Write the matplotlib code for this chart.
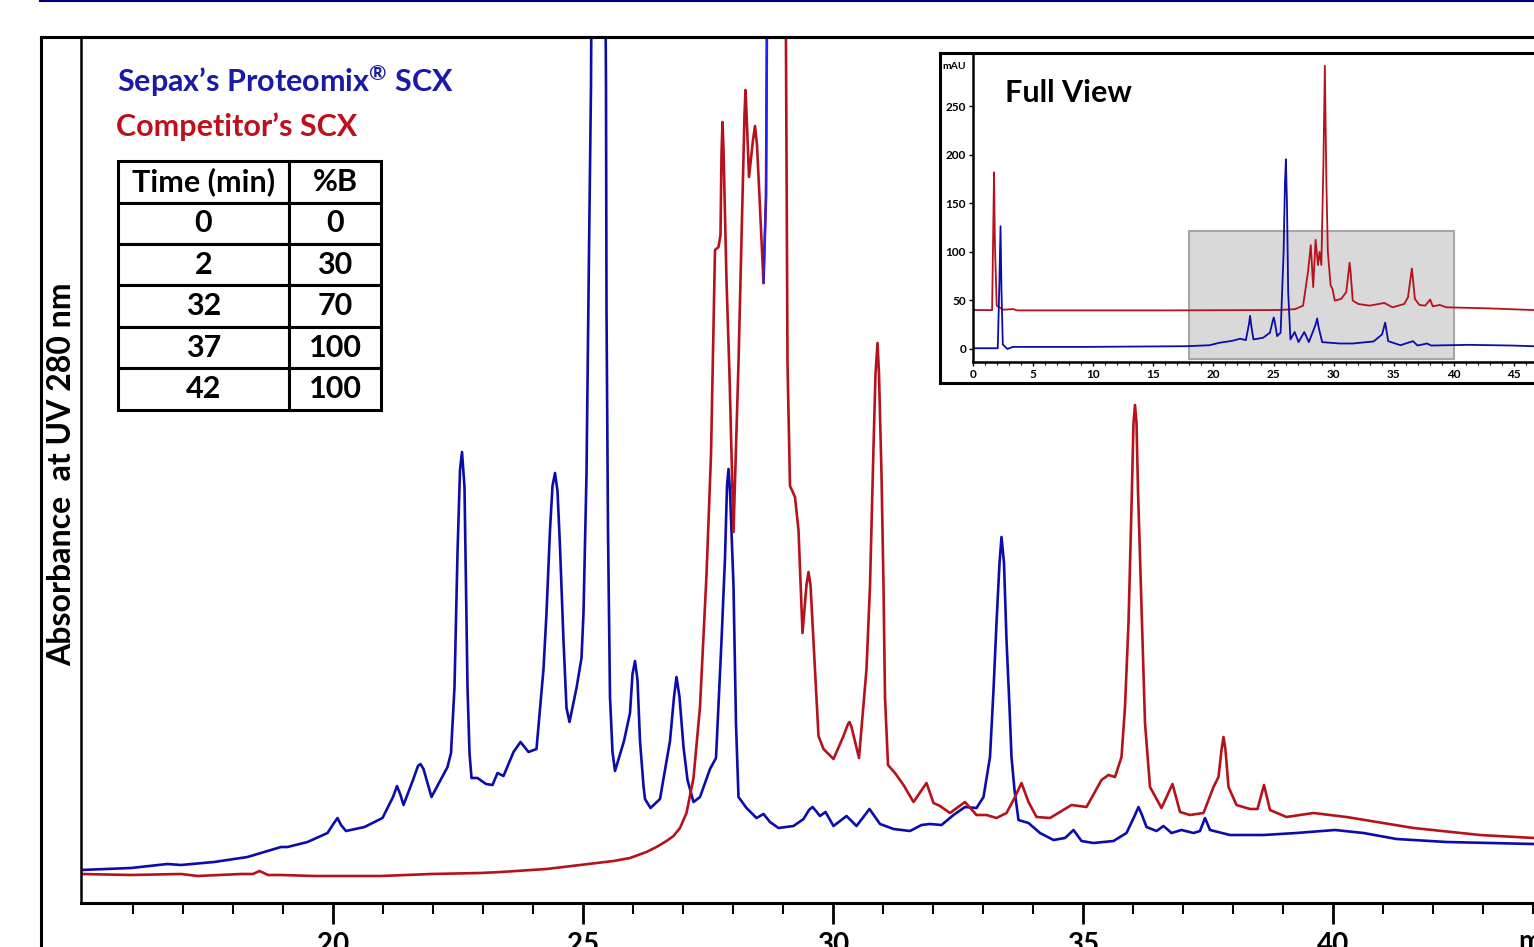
import numpy as np
import matplotlib.pyplot as plt
from matplotlib.patches import Rectangle
from matplotlib.lines import Line2D

plt.rcParams['font.family'] = ['Lato', 'DejaVu Sans']
plt.rcParams['mathtext.fontset'] = 'custom'
plt.rcParams['mathtext.rm'] = 'Lato:bold'

# main view, time (min) / absorbance (arb. units)
blue_t = np.array([14.96, 15.96, 16.69, 16.96, 17.62, 18.29, 18.96, 19.09, 19.49, 19.89,
                   20.02, 20.09, 20.16, 20.26, 20.63, 20.99, 21.20, 21.28, 21.35, 21.41,
                   21.60, 21.70, 21.75, 21.81, 21.97, 22.29, 22.36, 22.43, 22.49, 22.54,
                   22.58, 22.63, 22.66, 22.69, 22.73, 22.77, 22.89, 23.06, 23.19, 23.29,
                   23.41, 23.61, 23.75, 23.91, 24.07, 24.21, 24.27, 24.34, 24.39, 24.44,
                   24.49, 24.54, 24.61, 24.67, 24.73, 24.87, 24.97, 25.01, 25.07, 25.12,
                   25.16, 25.30, 25.46, 25.47, 25.50, 25.54, 25.59, 25.64, 25.82, 25.94,
                   25.99, 26.04, 26.09, 26.14, 26.21, 26.24, 26.35, 26.54, 26.74, 26.82,
                   26.87, 26.93, 27.01, 27.09, 27.21, 27.34, 27.54, 27.66, 27.77, 27.84,
                   27.88, 27.91, 27.94, 28.01, 28.06, 28.11, 28.27, 28.47, 28.61, 28.74,
                   28.91, 29.21, 29.41, 29.52, 29.59, 29.66, 29.74, 29.85, 30.01, 30.27,
                   30.47, 30.73, 30.94, 31.21, 31.54, 31.77, 31.94, 32.17, 32.41, 32.64,
                   32.87, 33.01, 33.14, 33.21, 33.27, 33.33, 33.37, 33.42, 33.47, 33.53,
                   33.57, 33.63, 33.71, 33.91, 34.14, 34.41, 34.64, 34.81, 34.97, 35.21,
                   35.61, 35.87, 36.04, 36.11, 36.18, 36.27, 36.47, 36.61, 36.77, 36.97,
                   37.21, 37.34, 37.44, 37.54, 37.94, 38.61, 39.27, 40.04, 40.61, 41.27,
                   42.27, 44.02])
blue_a = np.array([0.5, 0.7, 1.1, 1.0, 1.3, 1.8, 2.8, 2.8, 3.3, 4.2,
                   5.2, 5.7, 5.0, 4.4, 4.8, 5.7, 7.8, 8.9, 8.0, 7.0,
                   9.5, 10.9, 11.1, 10.6, 7.8, 10.8, 12.2, 18.8, 32.2, 40.5,
                   42.3, 38.8, 28.8, 18.8, 12.2, 9.7, 9.7, 9.1, 9.0, 10.2,
                   9.9, 12.3, 13.3, 12.3, 12.6, 20.6, 26.2, 34.5, 38.9, 40.2,
                   38.4, 32.8, 23.4, 16.7, 15.3, 18.7, 21.7, 26.2, 40.1, 62.3,
                   78.9, 210.0, 78.9, 56.7, 34.5, 17.8, 12.3, 10.4, 13.4, 16.2,
                   20.1, 21.4, 19.5, 13.4, 8.9, 7.6, 6.7, 7.6, 13.4, 17.8,
                   19.8, 17.8, 12.8, 9.5, 7.3, 7.8, 10.6, 11.7, 23.4, 31.7,
                   38.9, 40.6, 38.4, 28.9, 15.1, 7.8, 6.7, 5.7, 6.1, 5.3,
                   4.7, 4.9, 5.6, 6.5, 6.8, 6.4, 5.9, 6.3, 4.9, 5.9,
                   4.9, 6.6, 5.1, 4.6, 4.4, 5.0, 5.1, 5.0, 6.0, 6.8,
                   6.7, 7.8, 11.8, 18.5, 25.2, 31.2, 33.8, 31.2, 23.5, 16.8,
                   11.8, 8.5, 5.5, 5.2, 4.2, 3.5, 3.7, 4.5, 3.4, 3.2,
                   3.4, 4.2, 6.0, 6.8, 6.0, 4.8, 4.4, 4.9, 4.2, 4.5,
                   4.2, 4.4, 5.7, 4.5, 4.0, 4.0, 4.2, 4.5, 4.2, 3.6,
                   3.3, 3.1])

red_t = np.array([14.96, 15.96, 16.96, 17.29, 18.16, 18.40, 18.53, 18.70, 18.96, 19.63,
                  20.96, 21.96, 22.94, 23.36, 24.27, 24.94, 25.61, 25.94, 26.27, 26.47,
                  26.67, 26.81, 26.94, 27.07, 27.21, 27.34, 27.47, 27.56, 27.64, 27.71,
                  27.75, 27.77, 27.79, 27.81, 27.87, 27.93, 28.01, 28.11, 28.19, 28.23,
                  28.25, 28.28, 28.32, 28.40, 28.44, 28.48, 28.53, 28.61, 28.66, 28.88,
                  29.09, 29.14, 29.24, 29.31, 29.39, 29.47, 29.51, 29.55, 29.61, 29.71,
                  29.81, 30.01, 30.21, 30.30, 30.33, 30.37, 30.52, 30.67, 30.74, 30.81,
                  30.85, 30.89, 30.92, 30.97, 31.01, 31.04, 31.10, 31.24, 31.41, 31.61,
                  31.87, 32.01, 32.14, 32.34, 32.64, 32.87, 33.07, 33.27, 33.47, 33.64,
                  33.77, 33.91, 34.07, 34.34, 34.77, 35.07, 35.37, 35.51, 35.64, 35.77,
                  35.84, 35.91, 35.97, 36.01, 36.04, 36.07, 36.10, 36.14, 36.24, 36.34,
                  36.57, 36.79, 36.94, 37.14, 37.41, 37.61, 37.71, 37.77, 37.81, 37.85,
                  37.91, 38.07, 38.34, 38.49, 38.62, 38.74, 39.07, 39.61, 40.27, 41.61,
                  42.94, 44.02])
red_a = np.array([0.1, 0.0, 0.1, -0.1, 0.1, 0.1, 0.4, 0.0, 0.0, -0.1,
                  -0.1, 0.1, 0.2, 0.3, 0.6, 1.0, 1.4, 1.7, 2.3, 2.8,
                  3.4, 3.9, 4.7, 6.2, 9.7, 16.8, 30.0, 42.0, 62.5, 62.8,
                  64.0, 72.0, 75.3, 72.5, 59.5, 50.0, 34.3, 51.2, 67.8, 76.0,
                  78.5, 75.0, 69.8, 73.5, 74.9, 73.0, 67.8, 59.2, 67.8, 270.0,
                  51.2, 38.9, 37.8, 34.5, 24.2, 29.0, 30.3, 29.0, 23.4, 13.9,
                  12.6, 11.6, 13.9, 15.1, 15.3, 14.8, 11.7, 20.6, 28.9, 42.8,
                  50.1, 53.2, 50.1, 40.1, 28.9, 17.8, 11.0, 10.2, 9.0, 7.3,
                  9.2, 7.2, 6.9, 6.2, 7.3, 6.0, 6.0, 5.7, 6.2, 7.8,
                  9.2, 7.3, 5.8, 5.7, 7.0, 6.8, 9.5, 10.0, 9.8, 11.8,
                  16.8, 25.2, 36.8, 45.2, 47.0, 45.2, 38.5, 31.8, 15.2, 8.8,
                  6.7, 9.1, 6.3, 6.0, 6.2, 8.8, 9.8, 12.5, 13.8, 12.5,
                  8.8, 7.0, 6.6, 6.6, 9.0, 6.5, 5.8, 6.2, 5.8, 4.7,
                  4.0, 3.7])

# full view (inset), time (min) / mAU
full_red_t = [0, 1.59, 1.68, 1.75, 1.82, 1.97, 2.54, 3.33, 3.65, 15.87, 25.4, 26.8, 27.46,
              27.87, 28.1, 28.3, 28.5, 28.7, 28.83, 28.98, 29.15, 29.27, 29.40, 29.52, 29.75,
              29.9, 30.1, 30.63, 31.05, 31.25, 31.33, 31.42, 31.59, 32.06, 33.0, 34.22, 34.9,
              35.87, 36.19, 36.42, 36.51, 36.60, 36.76, 37.14, 37.62, 38.03, 38.25, 38.83,
              39.37, 42.86, 46.6]
full_red_a = [40.1, 40.0, 120.0, 182.0, 110.0, 44.6, 40.4, 41.1, 39.7, 39.7, 40.1, 41.0, 44.6,
              79.4, 107.0, 63.8, 112.5, 86.4, 100.0, 86.4, 190.0, 292.0, 170.0, 100.0, 65.5,
              62.0, 49.8, 51.6, 58.5, 80.0, 88.9, 78.0, 49.8, 46.3, 44.6, 47.4, 42.9,
              46.3, 53.3, 75.0, 82.9, 72.0, 51.6, 45.3, 44.6, 50.9, 43.9, 45.3,
              42.9, 41.8, 40.1]
full_blue_t = [0, 2.06, 2.20, 2.29, 2.37, 2.48, 2.86, 3.33, 9.52, 17.78, 19.68, 20.48, 21.59,
               22.22, 22.7, 22.95, 23.05, 23.15, 23.33, 24.13, 24.7, 24.92, 25.02, 25.12, 25.3,
               25.59, 25.84, 25.95, 26.03, 26.12, 26.22, 26.41, 26.76, 27.08, 27.56, 27.94,
               28.50, 28.63, 28.76, 29.05, 30.48, 31.59, 33.33, 34.03, 34.29, 34.54, 35.56,
               36.6, 36.98, 37.78, 38.1, 41.27, 44.76, 46.6]
full_blue_a = [0.7, 0.7, 70.0, 126.5, 60.0, 4.5, 0.0, 2.1, 2.1, 2.8, 3.8, 6.3, 8.4,
               10.5, 9.1, 25.0, 34.1, 24.0, 9.8, 11.5, 16.7, 28.0, 32.4, 27.0, 13.2,
               16.7, 100.0, 170.0, 195.5, 150.0, 58.5, 9.8, 17.4, 7.0, 17.4, 7.0,
               25.0, 31.4, 22.0, 7.0, 5.6, 5.6, 7.7, 15.0, 27.2, 8.0, 3.8,
               8.0, 3.5, 5.6, 3.5, 4.2, 3.5, 2.8]
zoom_window = [18, 40]

grad_time = ['0', '2', '32', '37', '42']
grad_b = ['0', '30', '70', '100', '100']

BLUE = '#0c0cab'
RED = '#b5121b'
W, H = 1534, 947


def box(x0, y0, x1, y1):
    # pixel box -> figure fraction
    return [x0 / W, 1 - y1 / H, (x1 - x0) / W, (y1 - y0) / H]


fig = plt.figure(figsize=(W / 100, H / 100), dpi=100)

ax = fig.add_axes(box(81, 37, 1534, 903))
ax.plot(blue_t, blue_a, color=BLUE, lw=1.9, solid_joinstyle='round')
ax.plot(red_t, red_a, color=RED, lw=1.9, solid_joinstyle='round')
seg = (red_t >= 28.6) & (red_t <= 28.9)
ax.plot(red_t[seg], red_a[seg], color='#1f1fff', lw=1.6)
ax.set_xlim(14.96, 44.02)
ax.set_ylim(-2.8, 83.8)
ax.set_xticks(range(20, 41, 5))
ax.set_xticks(range(16, 45), minor=True)
ax.set_yticks([])
ax.tick_params(axis='x', which='major', length=15, width=2, labelsize=20, pad=6)
ax.tick_params(axis='x', which='minor', length=8, width=1.5)
for lab in ax.get_xticklabels():
    lab.set_fontweight('bold')
ax.spines['right'].set_visible(False)
ax.spines['left'].set_linewidth(1.8)
ax.spines['bottom'].set_linewidth(2.2)
ax.spines['top'].set_linewidth(2.2)
ax.annotate('min', xy=(43.7, 0), xycoords=('data', 'axes fraction'), xytext=(0, -18.5),
            textcoords='offset points', ha='left', va='top', fontsize=20, fontweight='bold')

ax.text(0.0248, 0.950, 'Sepax’s Proteomix$^{®}$ SCX', transform=ax.transAxes,
        color='#1a1aa6', fontsize=22, fontweight='bold', va='center', ha='left')
ax.text(0.0241, 0.897, 'Competitor’s SCX', transform=ax.transAxes, color='#bd0f1c',
        fontsize=22, fontweight='bold', va='center', ha='left')

rows = [['Time (min)', '%B']] + [[a, b] for a, b in zip(grad_time, grad_b)]
tbl = ax.table(cellText=rows, cellLoc='center', colWidths=[171 / 263, 92 / 263],
               bbox=[0.0255, 0.5693, 0.181, 0.2875])
tbl.auto_set_font_size(False)
for cell in tbl.get_celld().values():
    cell.set_linewidth(2.2)
    cell.get_text().set_fontsize(22)
    cell.get_text().set_fontweight('bold')

fig.text(62 / W, 1 - 474 / H, 'Absorbance  at UV 280 nm', rotation=90, ha='center',
         va='center', fontsize=23, fontweight='bold')

# page frame and top rule
fig.add_artist(Line2D([41 / W, 41 / W], [0, 1 - 37 / H], color='black', lw=2.2))
fig.add_artist(Line2D([41 / W, 1], [1 - 37 / H, 1 - 37 / H], color='black', lw=2.2))
fig.add_artist(Line2D([40 / W, 1], [1 - 1 / H, 1 - 1 / H], color='#00007a', lw=1.5))

# inset frame
fr = fig.add_axes(box(940, 53, 1600, 383))
fr.set_xticks([])
fr.set_yticks([])
for s in fr.spines.values():
    s.set_linewidth(2.2)

iax = fig.add_axes(box(973, 55, 1534, 362.5))
iax.patch.set_alpha(0)
iax.add_patch(Rectangle((zoom_window[0], -10.3), zoom_window[1] - zoom_window[0], 132.3,
                        facecolor='#d9d9d9', edgecolor='#a6a6a6', lw=1.5, zorder=0))
iax.plot(full_red_t, full_red_a, color=RED, lw=1.3, solid_joinstyle='round')
iax.plot(full_blue_t, full_blue_a, color=BLUE, lw=1.3, solid_joinstyle='round')
iax.set_xlim(0, 46.67)
iax.set_ylim(-14, 303)
iax.set_xticks(range(0, 46, 5))
iax.set_xticks(range(0, 47), minor=True)
iax.set_yticks(range(0, 251, 50))
iax.tick_params(which='major', length=3, width=1, labelsize=8.5, pad=2)
iax.tick_params(which='minor', length=2, width=0.8)
for lab in iax.get_xticklabels() + iax.get_yticklabels():
    lab.set_fontweight('bold')
iax.spines['top'].set_visible(False)
iax.spines['right'].set_visible(False)
iax.spines['left'].set_linewidth(1.8)
iax.spines['bottom'].set_linewidth(1.8)
iax.text(0.057, 0.876, 'Full View', transform=iax.transAxes, fontsize=22, fontweight='bold',
         va='center', ha='left')
iax.text(-0.034, 0.961, 'mAU', transform=iax.transAxes, fontsize=7.5, fontweight='bold',
         va='center', ha='center')

fig.savefig('out.png', dpi=100)
